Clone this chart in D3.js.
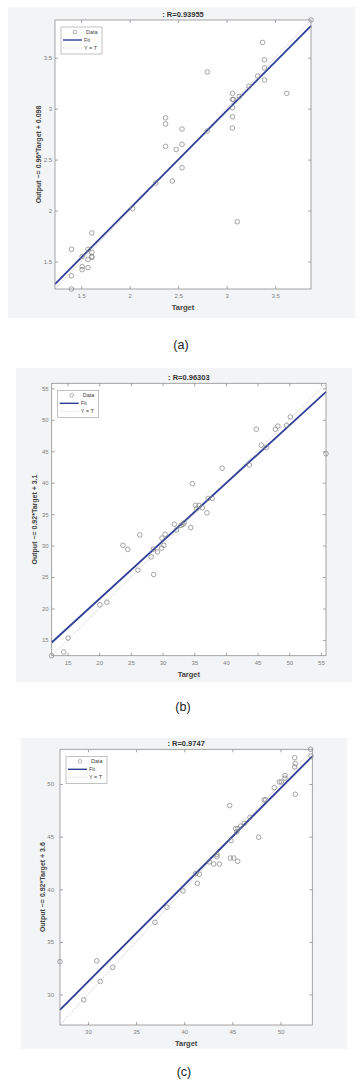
<!DOCTYPE html>
<html><head><meta charset="utf-8">
<script src="https://cdn.jsdelivr.net/npm/d3@7"></script>
<style>
html,body{margin:0;padding:0;background:#fff;}
svg{display:block;}
text{font-family:"Liberation Sans",Arial,sans-serif;}
</style></head>
<body>
<svg id="chart" width="360" height="1087"></svg>
<script>
// ---------- DATA ----------
const titlesList = [": R=0.93955", ": R=0.96303", ": R=0.9747"];
const yLabels = ["Output ~= 0.96*Target + 0.098", "Output ~= 0.92*Target + 3.1", "Output ~= 0.92*Target + 3.6"];
const panelLabels = ["(a)", "(b)", "(c)"];
const fitA = [0.96, 0.098];
const fitB = [0.92, 3.1];
const fitC = [0.92, 3.6];
const ticksA = [1.5, 2, 2.5, 3, 3.5];
const ticksB = [15, 20, 25, 30, 35, 40, 45, 50, 55];
const ticksC = [30, 35, 40, 45, 50];
const legendItems = ["Data", "Fit", "Y = T"];

const targetA = [3.87, 3.37, 3.39, 3.39, 3.39, 3.32, 3.23, 3.62, 2.80, 3.06, 3.06, 3.07, 3.13, 3.06, 3.06, 3.06, 2.80, 2.37, 2.37, 2.54, 2.37, 2.54, 2.48, 2.54, 2.44, 2.27, 2.03, 3.11, 1.61, 1.40, 1.57, 1.61, 1.61, 1.61, 1.51, 1.57, 1.51, 1.51, 1.57, 1.40, 1.40];
const outputA = [3.87, 3.65, 3.48, 3.40, 3.28, 3.32, 3.22, 3.15, 3.36, 3.15, 3.09, 3.09, 3.12, 3.01, 2.92, 2.81, 2.78, 2.91, 2.85, 2.80, 2.63, 2.65, 2.60, 2.42, 2.29, 2.27, 2.02, 1.89, 1.78, 1.62, 1.62, 1.59, 1.55, 1.54, 1.55, 1.52, 1.45, 1.42, 1.44, 1.36, 1.23];

const targetB = [55.8, 50.17, 49.6, 48.2, 47.8, 44.8, 45.6, 46.4, 43.7, 39.4, 34.7, 37.2, 37.85, 37.0, 36.3, 35.2, 35.75, 35.4, 34.45, 33.2, 33.4, 32.9, 31.85, 32.2, 30.4, 29.9, 26.4, 23.75, 24.5, 28.55, 30.2, 29.85, 29.2, 28.2, 26.1, 28.6, 20.1, 21.2, 15.1, 14.4, 12.5];
const outputB = [44.6, 50.45, 49.1, 49.0, 48.5, 48.5, 45.95, 45.6, 42.8, 42.3, 39.85, 37.5, 37.5, 35.2, 36.0, 36.4, 36.4, 35.9, 32.85, 33.4, 33.6, 33.2, 33.4, 32.5, 31.8, 31.2, 31.7, 30.05, 29.4, 29.45, 30.05, 29.6, 29.0, 28.2, 26.1, 25.4, 20.6, 21.0, 15.3, 13.1, 12.5];

const targetC = [53.13, 53.16, 51.47, 51.53, 51.47, 51.53, 50.46, 50.46, 50.08, 49.87, 49.35, 48.3, 48.46, 46.83, 46.24, 45.86, 45.55, 45.34, 45.45, 44.72, 47.73, 44.86, 44.8, 45.14, 45.55, 43.4, 43.4, 43.06, 43.64, 42.6, 41.57, 41.2, 41.36, 39.87, 38.21, 36.96, 32.57, 30.91, 31.28, 29.56, 27.1];
const outputC = [53.3, 52.67, 52.5, 51.94, 51.62, 49.03, 50.8, 50.55, 50.2, 50.2, 49.66, 48.5, 48.5, 46.84, 46.27, 46.0, 45.76, 45.76, 45.45, 47.95, 44.94, 44.62, 42.97, 42.97, 42.66, 43.3, 43.1, 42.4, 42.4, 42.6, 41.43, 41.5, 40.57, 39.84, 38.29, 36.86, 32.58, 33.2, 31.24, 29.49, 33.12];

// ---------- LAYOUT ----------
const layouts = [
  {bg:[8,7,355,318], plot:[55,20,311,289], lab:[181,349], ygap:3, ylab:17},
  {bg:[16,368,352,682], plot:[51.7,383.3,326,655.7], lab:[183,711], ygap:3, ylab:17},
  {bg:[21,738,347,1049], plot:[60,749.3,312.3,1025], lab:[184,1076], ygap:6, ylab:17.5}
];
const panels = [
  {t:targetA, o:outputA, fit:fitA, ticks:ticksA},
  {t:targetB, o:outputB, fit:fitB, ticks:ticksB},
  {t:targetC, o:outputC, fit:fitC, ticks:ticksC}
];

const svg = d3.select("#chart");
const axisCol = "#8f8f8f", tickTxt = "#808080", fitCol = "#2f3f98", dataCol = "#808080";

panels.forEach((p, i) => {
  const L = layouts[i];
  const [x0, y0, x1, y1] = L.plot;
  const dom = d3.extent(p.t.concat(p.o));
  const x = d3.scaleLinear().domain(dom).range([x0, x1]);
  const y = d3.scaleLinear().domain(dom).range([y1, y0]);
  const g = svg.append("g");

  g.append("rect").attr("x", L.bg[0]).attr("y", L.bg[1])
    .attr("width", L.bg[2]-L.bg[0]).attr("height", L.bg[3]-L.bg[1]).attr("fill", "#f3f4f6");
  g.append("rect").attr("x", x0).attr("y", y0).attr("width", x1-x0).attr("height", y1-y0)
    .attr("fill", "#fff");

  const fmt = d => String(d);
  const styleAxis = (sel) => {
    sel.select(".domain").remove();
    sel.selectAll("line").attr("stroke", axisCol).attr("stroke-width", 0.8);
    sel.selectAll("text").attr("fill", tickTxt).attr("font-size", "6px");
  };
  g.append("g").attr("transform", `translate(0,${y1})`)
    .call(d3.axisBottom(x).tickValues(p.ticks).tickFormat(fmt).tickSizeInner(-3).tickPadding(5))
    .call(styleAxis);
  g.append("g").attr("transform", `translate(0,${y0})`)
    .call(d3.axisTop(x).tickValues(p.ticks).tickFormat("").tickSizeInner(-3))
    .call(styleAxis);
  g.append("g").attr("transform", `translate(${x0},0)`)
    .call(d3.axisLeft(y).tickValues(p.ticks).tickFormat(fmt).tickSizeInner(-3).tickPadding(L.ygap))
    .call(styleAxis);
  g.append("g").attr("transform", `translate(${x1},0)`)
    .call(d3.axisRight(y).tickValues(p.ticks).tickFormat("").tickSizeInner(-3))
    .call(styleAxis);

  // Y = T line
  g.append("line").attr("x1", x(dom[0])).attr("y1", y(dom[0]))
    .attr("x2", x(dom[1])).attr("y2", y(dom[1]))
    .attr("stroke", "#b8b8b8").attr("stroke-width", 0.7).attr("stroke-dasharray", "1.2,1");
  // Fit line
  const f = v => p.fit[0]*v + p.fit[1];
  g.append("line").attr("x1", x(dom[0])).attr("y1", y(f(dom[0])))
    .attr("x2", x(dom[1])).attr("y2", y(f(dom[1])))
    .attr("stroke", fitCol).attr("stroke-width", 1.8);

  // data circles
  g.append("g").selectAll("circle").data(p.t.map((t, k) => [t, p.o[k]])).join("circle")
    .attr("cx", d => x(d[0])).attr("cy", d => y(d[1])).attr("r", 2.3)
    .attr("fill", "none").attr("stroke", dataCol).attr("stroke-width", 0.7);

  // box
  g.append("rect").attr("x", x0).attr("y", y0).attr("width", x1-x0).attr("height", y1-y0)
    .attr("fill", "none").attr("stroke", axisCol).attr("stroke-width", 0.8);

  // title
  g.append("text").attr("x", (x0+x1)/2).attr("y", y0-3.5).attr("text-anchor", "middle")
    .attr("font-size", "7.5px").attr("font-weight", "bold").attr("fill", "#333").text(titlesList[i]);
  // x label
  g.append("text").attr("x", (x0+x1)/2).attr("y", y1+21).attr("text-anchor", "middle")
    .attr("font-size", "7.5px").attr("font-weight", "bold").attr("fill", "#444").text("Target");
  // y label
  g.append("text").attr("transform", `translate(${x0-L.ylab},${(y0+y1)/2}) rotate(-90)`)
    .attr("text-anchor", "middle").attr("dominant-baseline", "central")
    .attr("font-size", "7px").attr("font-weight", "bold").attr("fill", "#444").text(yLabels[i]);

  // legend
  const lx = x0 + 6, ly = y0 + 7;
  const lg = g.append("g").attr("transform", `translate(${lx},${ly})`);
  lg.append("rect").attr("width", 41).attr("height", 27).attr("fill", "#fff")
    .attr("stroke", "#9a9a9a").attr("stroke-width", 0.6);
  legendItems.forEach((name, k) => {
    const yy = 5 + k * 8;
    if (k === 0) lg.append("circle").attr("cx", 14).attr("cy", yy).attr("r", 1.8)
      .attr("fill", "none").attr("stroke", dataCol).attr("stroke-width", 0.6);
    if (k === 1) lg.append("line").attr("x1", 2).attr("x2", 21).attr("y1", yy).attr("y2", yy)
      .attr("stroke", fitCol).attr("stroke-width", 1.4);
    if (k === 2) lg.append("line").attr("x1", 2).attr("x2", 21).attr("y1", yy).attr("y2", yy)
      .attr("stroke", "#c0c0c0").attr("stroke-width", 0.6).attr("stroke-dasharray", "1,1");
    lg.append("text").attr("x", k === 0 ? 25 : 23).attr("y", yy).attr("dominant-baseline", "central")
      .attr("font-size", "5.5px").attr("fill", "#444").text(name);
  });

  // panel label
  svg.append("text").attr("x", L.lab[0]).attr("y", L.lab[1]).attr("text-anchor", "middle")
    .attr("font-family", "Lato, 'DejaVu Sans', sans-serif")
    .attr("font-size", "12.5px").attr("fill", "#222").text(panelLabels[i]);
});
</script>
</body></html>
